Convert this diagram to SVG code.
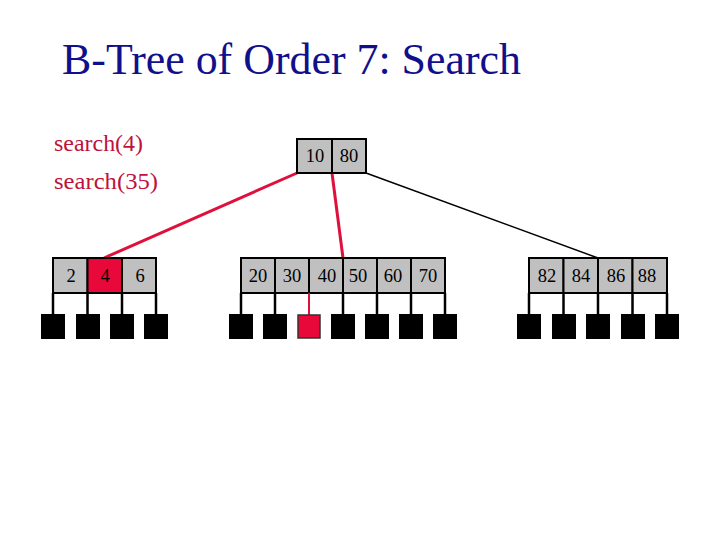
<svg xmlns="http://www.w3.org/2000/svg" width="720" height="540" viewBox="0 0 720 540">
<style>
.cell{fill:#c0c0c0;stroke:#000;stroke-width:2}
.hot{fill:#e8083a;stroke:#000;stroke-width:2}
.ptr{stroke:#000;stroke-width:2.5}
.leaf{fill:#000}
.num{font-family:"Liberation Serif",serif;font-size:18.5px;fill:#000;text-anchor:middle}
.lbl{font-family:"Liberation Serif",serif;font-size:24px;fill:#c0103c}
</style>
<rect width="720" height="540" fill="#fff"/>
<text x="62" y="74" font-family="Liberation Serif,serif" font-size="44" fill="#10108c" textLength="459" lengthAdjust="spacingAndGlyphs">B-Tree of Order 7: Search</text>
<text class="lbl" x="54" y="151" textLength="89" lengthAdjust="spacingAndGlyphs">search(4)</text>
<text class="lbl" x="54" y="189" textLength="104" lengthAdjust="spacingAndGlyphs">search(35)</text>
<g id="connectors">
<line x1="297" y1="173" x2="104" y2="258" stroke="#e0103c" stroke-width="3"/>
<line x1="332" y1="173" x2="343" y2="258" stroke="#e0103c" stroke-width="3"/>
<line x1="366" y1="173" x2="598" y2="258" stroke="#000" stroke-width="1.5"/>
</g>
<g id="root">
<rect class="cell" x="297" y="139" width="35" height="34"/>
<rect class="cell" x="332" y="139" width="34" height="34"/>
<text class="num" x="315" y="162">10</text>
<text class="num" x="349" y="162">80</text>
</g>
<g id="leaf1">
<rect class="cell" x="53" y="258" width="34.5" height="35"/>
<rect class="hot" x="87.5" y="258" width="34.5" height="35"/>
<rect class="cell" x="122" y="258" width="34" height="35"/>
<text class="num" x="71" y="282">2</text>
<text class="num" x="105" y="282">4</text>
<text class="num" x="140" y="282">6</text>
<g class="ptr"><line x1="53" y1="293" x2="53" y2="314"/><line x1="87.5" y1="293" x2="87.5" y2="314"/><line x1="122" y1="293" x2="122" y2="314"/><line x1="156" y1="293" x2="156" y2="314"/></g>
<rect class="leaf" x="41" y="314" width="24" height="25"/>
<rect class="leaf" x="76" y="314" width="24" height="25"/>
<rect class="leaf" x="110" y="314" width="24" height="25"/>
<rect class="leaf" x="144" y="314" width="24" height="25"/>
</g>
<g id="leaf2">
<rect class="cell" x="241" y="258" width="34" height="35"/>
<rect class="cell" x="275" y="258" width="34" height="35"/>
<rect class="cell" x="309" y="258" width="34" height="35"/>
<rect class="cell" x="343" y="258" width="34" height="35"/>
<rect class="cell" x="377" y="258" width="34" height="35"/>
<rect class="cell" x="411" y="258" width="34" height="35"/>
<text class="num" x="258" y="282">20</text>
<text class="num" x="292" y="282">30</text>
<text class="num" x="327" y="282">40</text>
<text class="num" x="358" y="282">50</text>
<text class="num" x="393" y="282">60</text>
<text class="num" x="428" y="282">70</text>
<g class="ptr"><line x1="241" y1="293" x2="241" y2="314"/><line x1="275" y1="293" x2="275" y2="314"/><line x1="343" y1="293" x2="343" y2="314"/><line x1="377" y1="293" x2="377" y2="314"/><line x1="411" y1="293" x2="411" y2="314"/><line x1="445" y1="293" x2="445" y2="314"/></g>
<line x1="309" y1="293" x2="309" y2="316" stroke="#e0103c" stroke-width="2"/>
<rect class="leaf" x="229" y="314" width="24" height="25"/>
<rect class="leaf" x="263" y="314" width="24" height="25"/>
<rect x="298" y="315" width="22" height="23" fill="#e8083a" stroke="#333" stroke-width="1.5"/>
<rect class="leaf" x="331" y="314" width="24" height="25"/>
<rect class="leaf" x="365" y="314" width="24" height="25"/>
<rect class="leaf" x="399" y="314" width="24" height="25"/>
<rect class="leaf" x="433" y="314" width="24" height="25"/>
</g>
<g id="leaf3">
<rect class="cell" x="529" y="258" width="34.5" height="35"/>
<rect class="cell" x="563.5" y="258" width="34.5" height="35"/>
<rect class="cell" x="598" y="258" width="34.5" height="35"/>
<rect class="cell" x="632.5" y="258" width="34.5" height="35"/>
<text class="num" x="547" y="282">82</text>
<text class="num" x="581" y="282">84</text>
<text class="num" x="616" y="282">86</text>
<text class="num" x="647" y="282">88</text>
<g class="ptr"><line x1="529" y1="293" x2="529" y2="314"/><line x1="563.5" y1="293" x2="563.5" y2="314"/><line x1="598" y1="293" x2="598" y2="314"/><line x1="632.5" y1="293" x2="632.5" y2="314"/><line x1="667" y1="293" x2="667" y2="314"/></g>
<rect class="leaf" x="517" y="314" width="24" height="25"/>
<rect class="leaf" x="552" y="314" width="24" height="25"/>
<rect class="leaf" x="586" y="314" width="24" height="25"/>
<rect class="leaf" x="621" y="314" width="24" height="25"/>
<rect class="leaf" x="655" y="314" width="24" height="25"/>
</g>
</svg>
